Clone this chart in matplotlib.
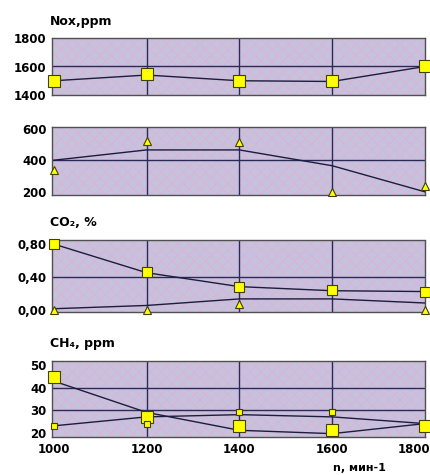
import matplotlib
matplotlib.use("Agg")
import matplotlib.pyplot as plt
from matplotlib.patches import Rectangle
import numpy as np

plt.rcParams["hatch.linewidth"] = 0.6

# ---- data ----
rpm = [1000, 1200, 1400, 1600, 1800]
x_ticks = [1000, 1200, 1400, 1600, 1800]

nox_line = [1500, 1540, 1500, 1495, 1600]
nox_pts = [1500, 1545, 1500, 1495, 1600]
nox_ticks = [1400, 1600, 1800]

p2_line = [400, 465, 465, 365, 200]
p2_pts = [335, 520, 515, 200, 240]
p2_ticks = [200, 400, 600]

co2_line_a = [0.80, 0.45, 0.28, 0.23, 0.22]
co2_pts_a = [0.80, 0.46, 0.28, 0.24, 0.22]
co2_line_b = [0.01, 0.05, 0.13, 0.13, 0.08]
co2_pts_b = [0.00, 0.00, 0.07, np.nan, 0.00]
co2_ticks = [0.0, 0.40, 0.80]
co2_ticklabels = ["0,00", "0,40", "0,80"]

ch4_line_a = [43, 29, 21, 19.5, 24]
ch4_pts_a = [45, 27, 23, 21, 23]
ch4_line_b = [23, 27, 28, 27, 24]
ch4_pts_b = [23, 24, 29, 29, np.nan]
ch4_ticks = [20, 30, 40, 50]

titles = ["Nox,ppm", None, "CO₂, %", "CH₄, ppm"]
xlabel = "n, мин-1"

# ---- figure ----
W, H = 430, 475
fig = plt.figure(figsize=(W / 100, H / 100), dpi=100)

def pos(top, bottom, left=52, right=425):
    return [left / W, 1 - bottom / H, (right - left) / W, (bottom - top) / H]

axes = [
    fig.add_axes(pos(38, 95)),
    fig.add_axes(pos(127, 195)),
    fig.add_axes(pos(240, 312)),
    fig.add_axes(pos(361, 437)),
]

line_c = "#1c1c3c"
grid_c = "#2a2a5a"

def style(ax, ylim, yticks, grid_y, ylabels=None):
    ax.set_xlim(996, 1800)
    ax.set_ylim(*ylim)
    ax.set_facecolor("#c6c2da")
    r = Rectangle((0, 0), 1, 1, transform=ax.transAxes, facecolor="none",
                  hatch="xxx", edgecolor="#dcb0e0", lw=0, zorder=0)
    ax.add_patch(r)
    for v in [1200, 1400, 1600]:
        ax.axvline(v, color=grid_c, lw=1.0, zorder=1)
    for v in grid_y:
        ax.axhline(v, color=grid_c, lw=1.0, zorder=1)
    ax.set_yticks(yticks)
    if ylabels is not None:
        ax.set_yticklabels(ylabels)
    ax.set_xticks(x_ticks)
    ax.tick_params(length=0, labelsize=8.5, pad=4)
    for lab in ax.get_yticklabels() + ax.get_xticklabels():
        lab.set_fontweight("bold")
    for s in ax.spines.values():
        s.set_linestyle((0, (1, 1)))
        s.set_color("#505050")
        s.set_linewidth(1.0)

# Panel 1: NOx
ax = axes[0]
style(ax, (1400, 1800), nox_ticks, [1600])
ax.plot(rpm, nox_line, color=line_c, lw=1.0, zorder=3)
ax.plot(rpm, nox_pts, ls="none", marker="s", ms=8, mfc="#ffff00",
        mec="#404000", mew=0.8, zorder=4, clip_on=False)
ax.set_xticklabels([])

# Panel 2
ax = axes[1]
style(ax, (180, 610), p2_ticks, [400])
ax.plot(rpm, p2_line, color=line_c, lw=1.0, zorder=3)
ax.plot(rpm, p2_pts, ls="none", marker="^", ms=6, mfc="#ffff00",
        mec="#404000", mew=0.8, zorder=4, clip_on=False)
ax.set_xticklabels([])

# Panel 3: CO2
ax = axes[2]
style(ax, (-0.03, 0.85), co2_ticks, [0.40], co2_ticklabels)
ax.plot(rpm, co2_line_a, color=line_c, lw=1.0, zorder=3)
ax.plot(rpm, co2_line_b, color=line_c, lw=1.0, zorder=3)
ax.plot(rpm, co2_pts_a, ls="none", marker="s", ms=7, mfc="#ffff00",
        mec="#404000", mew=0.8, zorder=4, clip_on=False)
ax.plot(rpm, co2_pts_b, ls="none", marker="^", ms=5.5, mfc="#ffff00",
        mec="#404000", mew=0.8, zorder=4, clip_on=False)
ax.set_xticklabels([])

# Panel 4: CH4
ax = axes[3]
style(ax, (18, 52), ch4_ticks, [30, 40])
ax.plot(rpm, ch4_line_a, color=line_c, lw=1.0, zorder=3)
ax.plot(rpm, ch4_line_b, color=line_c, lw=1.0, zorder=3)
ax.plot(rpm, ch4_pts_a, ls="none", marker="s", ms=8, mfc="#ffff00",
        mec="#404000", mew=0.8, zorder=4, clip_on=False)
ax.plot(rpm, ch4_pts_b, ls="none", marker="s", ms=5, mfc="#ffff00",
        mec="#404000", mew=0.8, zorder=4, clip_on=False)
ax.set_xticklabels([str(v) for v in x_ticks])
xl = ax.get_xticklabels()
xl[-1].set_horizontalalignment("right")
xl[-1].set_x(1800)
from matplotlib.transforms import offset_copy
xl[-1].set_transform(offset_copy(xl[-1].get_transform(), fig=fig, x=4, units="points"))

# titles
title_y = [22, None, 223, 343]
for t, yy in zip(titles, title_y):
    if t:
        fig.text(50 / W, 1 - yy / H, t, fontsize=9, fontweight="bold",
                 ha="left", va="center")

fig.text(333 / W, 1 - 468 / H, xlabel, fontsize=8, fontweight="bold",
         ha="left", va="center")

fig.savefig("out.png", dpi=100, facecolor="white")
